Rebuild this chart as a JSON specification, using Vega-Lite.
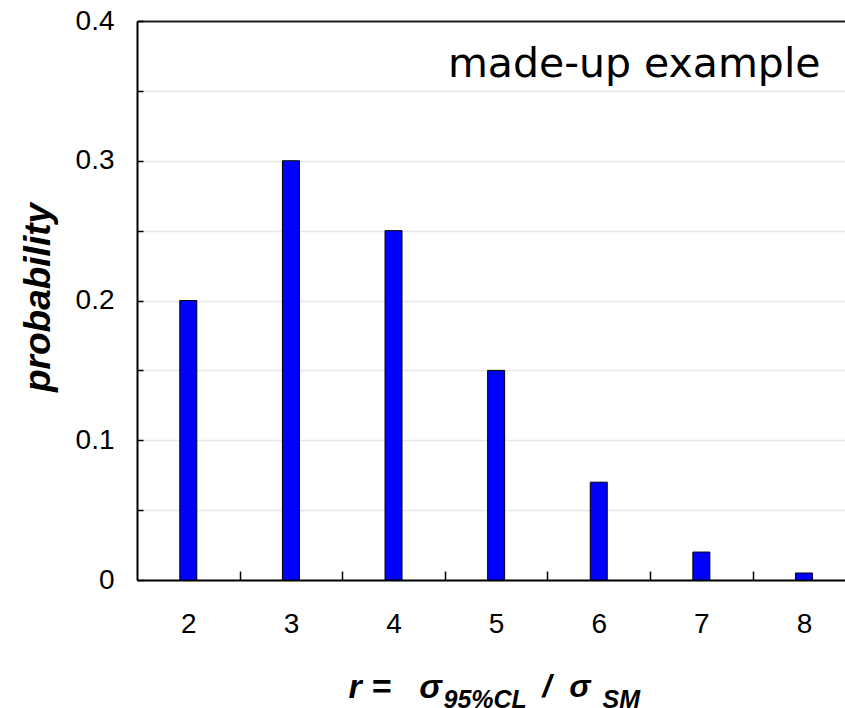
{
  "$schema": "https://vega.github.io/schema/vega-lite/v6.json",
  "width": 708,
  "height": 559,
  "autosize": {"type": "none"},
  "padding": {"left": 137, "top": 21, "right": 0, "bottom": 128},
  "background": "white",
  "config": {"view": {"stroke": null}, "font": "Liberation Sans"},
  "data": {
    "values": [
      {"r": 2, "p": 0.2},
      {"r": 3, "p": 0.3},
      {"r": 4, "p": 0.25},
      {"r": 5, "p": 0.15},
      {"r": 6, "p": 0.07},
      {"r": 7, "p": 0.02},
      {"r": 8, "p": 0.005}
    ]
  },
  "layer": [
    {
      "mark": {"type": "bar", "orient": "vertical", "fill": "#0000ff", "stroke": "black", "strokeWidth": 1, "width": 17},
      "encoding": {
        "x": {
          "field": "r",
          "type": "quantitative",
          "scale": {"domain": [1.5, 8.4], "nice": false, "zero": false, "padding": 0},
          "axis": {
            "orient": "bottom",
            "values": [2, 3, 4, 5, 6, 7, 8],
            "format": "d",
            "grid": false,
            "tickSize": -5,
            "tickColor": "black",
            "tickWidth": 1.5,
            "domainColor": "black",
            "domainWidth": 2,
            "labelFont": "Liberation Sans",
            "labelFontSize": 28,
            "labelColor": "black",
            "labelPadding": 35,
            "labelFlush": false,
            "labelOverlap": false,
            "title": "r =\u00a0\u00a0\u00a0σ",
            "titleFont": "Liberation Sans",
            "titleFontSize": 34,
            "titleFontWeight": "bold",
            "titleFontStyle": "italic",
            "titleColor": "black",
            "titleX": 211,
            "titleY": 117.5,
            "titleAlign": "left",
            "titleBaseline": "alphabetic"
          }
        },
        "y": {
          "field": "p",
          "type": "quantitative",
          "scale": {"domain": [0, 0.4], "nice": false, "padding": 0},
          "axis": {
            "values": [0, 0.05, 0.1, 0.15, 0.2, 0.25, 0.3, 0.35, 0.4],
            "labelExpr": "round(datum.value*20)%2==0 ? (datum.value==0 ? '0' : format(datum.value,'.1f')) : ''",
            "grid": true,
            "gridColor": "#e6e6e6",
            "gridWidth": 1.5,
            "tickSize": -6,
            "tickColor": "black",
            "tickWidth": 1.5,
            "domainColor": "black",
            "domainWidth": 2,
            "labelFont": "Liberation Sans",
            "labelFontSize": 28,
            "labelColor": "black",
            "labelPadding": 29,
            "labelFlush": false,
            "labelOverlap": false,
            "title": "probability",
            "titleFont": "Liberation Sans",
            "titleFontSize": 37,
            "titleFontWeight": "bold",
            "titleFontStyle": "italic",
            "titleColor": "black",
            "titleX": -88,
            "titleY": 276,
            "titleAngle": 270,
            "titleAlign": "center",
            "titleBaseline": "alphabetic"
          }
        }
      }
    },
    {
      "mark": {"type": "point", "opacity": 0},
      "encoding": {
        "x": {
          "field": "r",
          "type": "quantitative",
          "axis": {
            "orient": "bottom",
            "values": [2.5, 3.5, 4.5, 5.5, 6.5, 7.5],
            "labels": false,
            "grid": false,
            "domain": false,
            "tickSize": -9,
            "tickColor": "black",
            "tickWidth": 1.5,
            "title": "95%CL",
            "titleFont": "Liberation Sans",
            "titleFontSize": 25,
            "titleFontWeight": "bold",
            "titleFontStyle": "italic",
            "titleColor": "black",
            "titleX": 306,
            "titleY": 127,
            "titleAlign": "left",
            "titleBaseline": "alphabetic"
          }
        }
      }
    },
    {
      "mark": {"type": "point", "opacity": 0},
      "encoding": {
        "x": {
          "field": "r",
          "type": "quantitative",
          "axis": {
            "orient": "bottom",
            "labels": false,
            "ticks": false,
            "grid": false,
            "domain": false,
            "title": "/\u00a0\u00a0σ",
            "titleFont": "Liberation Sans",
            "titleFontSize": 32,
            "titleFontWeight": "bold",
            "titleFontStyle": "italic",
            "titleColor": "black",
            "titleX": 405,
            "titleY": 116.5,
            "titleAlign": "left",
            "titleBaseline": "alphabetic"
          }
        }
      }
    },
    {
      "mark": {"type": "point", "opacity": 0},
      "encoding": {
        "x": {
          "field": "r",
          "type": "quantitative",
          "axis": {
            "orient": "bottom",
            "labels": false,
            "ticks": false,
            "grid": false,
            "domain": false,
            "title": "SM",
            "titleFont": "Liberation Sans",
            "titleFontSize": 25,
            "titleFontWeight": "bold",
            "titleFontStyle": "italic",
            "titleColor": "black",
            "titleX": 465,
            "titleY": 127,
            "titleAlign": "left",
            "titleBaseline": "alphabetic"
          }
        }
      }
    },
    {
      "mark": {"type": "point", "opacity": 0},
      "encoding": {
        "x": {
          "field": "r",
          "type": "quantitative",
          "axis": {
            "orient": "top",
            "labels": false,
            "ticks": false,
            "grid": false,
            "domain": true,
            "domainColor": "#222222",
            "domainWidth": 2,
            "title": "made-up example",
            "titleFont": "DejaVu Sans",
            "titleFontSize": 41,
            "titleFontWeight": "normal",
            "titleFontStyle": "normal",
            "titleColor": "black",
            "titleX": 683,
            "titleY": 55,
            "titleAlign": "right",
            "titleBaseline": "alphabetic"
          }
        }
      }
    }
  ],
  "resolve": {"axis": {"x": "independent"}}
}
